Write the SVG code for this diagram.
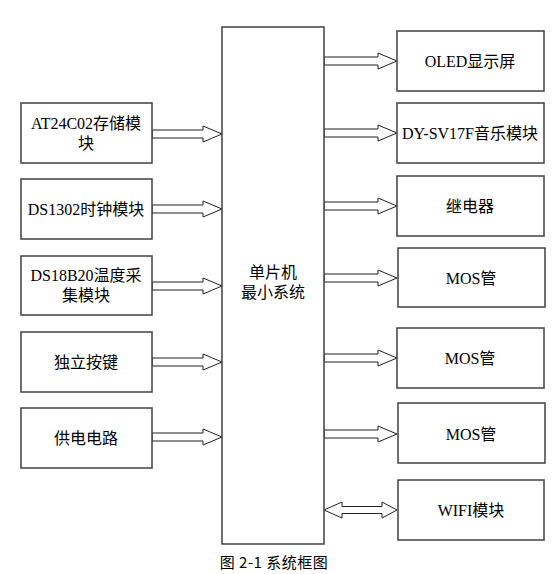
<svg xmlns="http://www.w3.org/2000/svg" width="560" height="574" viewBox="0 0 560 574">
<style>
.box{fill:#fff;stroke:#404040;stroke-width:1.5}
.arr{fill:#fff;stroke:#202020;stroke-width:1}
text{font-family:"Liberation Serif","Noto Sans CJK SC",serif;font-size:16px;fill:#000;text-anchor:middle}
.cap{font-family:"Noto Sans CJK SC",sans-serif;font-size:15px;letter-spacing:0.5px}
</style>
<rect width="560" height="574" fill="#fff"/>
<g id="connectors">
<polygon class="arr" points="152,130 203,130 203,126 222,134 203,142 203,138 152,138"/>
<polygon class="arr" points="152,205 203,205 203,201 222,209 203,217 203,213 152,213"/>
<polygon class="arr" points="152,282 203,282 203,278 222,286 203,294 203,290 152,290"/>
<polygon class="arr" points="152,358 203,358 203,354 222,362 203,370 203,366 152,366"/>
<polygon class="arr" points="152,433 203,433 203,429 222,437 203,445 203,441 152,441"/>
<polygon class="arr" points="324,57 378,57 378,53 397,61 378,69 378,65 324,65"/>
<polygon class="arr" points="324,129 378,129 378,125 397,133 378,141 378,137 324,137"/>
<polygon class="arr" points="324,202 378,202 378,198 397,206 378,214 378,210 324,210"/>
<polygon class="arr" points="324,274 378,274 378,270 397,278 378,286 378,282 324,282"/>
<polygon class="arr" points="324,354 378,354 378,350 397,358 378,366 378,362 324,362"/>
<polygon class="arr" points="324,430 378,430 378,426 397,434 378,442 378,438 324,438"/>
<polygon class="arr" points="324,510 342,502 342,506.5 382,506.5 382,502 397,510 382,518 382,513.5 342,513.5 342,518"/>
</g>
<g id="mcu"><rect class="box" x="222" y="27" width="102" height="517"/><text x="273" y="278">单片机</text><text x="273" y="298">最小系统</text></g>
<g id="at24c02"><rect class="box" x="21" y="103" width="131" height="60"/><text x="86" y="129">AT24C02存储模</text><text x="86" y="149">块</text></g>
<g id="ds1302"><rect class="box" x="21" y="179" width="131" height="60"/><text x="86" y="215">DS1302时钟模块</text></g>
<g id="ds18b20"><rect class="box" x="21" y="256" width="131" height="59"/><text x="86" y="281">DS18B20温度采</text><text x="86" y="301">集模块</text></g>
<g id="keys"><rect class="box" x="21" y="332" width="131" height="60"/><text x="86" y="368">独立按键</text></g>
<g id="power"><rect class="box" x="21" y="408" width="131" height="60"/><text x="86" y="444">供电电路</text></g>
<g id="oled"><rect class="box" x="397" y="31" width="147" height="60"/><text x="470" y="67">OLED显示屏</text></g>
<g id="dy"><rect class="box" x="397" y="103" width="147" height="60"/><text x="470" y="139">DY-SV17F音乐模块</text></g>
<g id="relay"><rect class="box" x="397" y="176" width="147" height="60"/><text x="470" y="212">继电器</text></g>
<g id="mos1"><rect class="box" x="398" y="248" width="147" height="59"/><text x="471" y="284">MOS管</text></g>
<g id="mos2"><rect class="box" x="397" y="328" width="147" height="60"/><text x="470" y="364">MOS管</text></g>
<g id="mos3"><rect class="box" x="398" y="403" width="147" height="60"/><text x="471" y="440">MOS管</text></g>
<g id="wifi"><rect class="box" x="398" y="480" width="146" height="60"/><text x="471" y="516">WIFI模块</text></g>
<text class="cap" x="274" y="568">图 2-1 系统框图</text>
</svg>
